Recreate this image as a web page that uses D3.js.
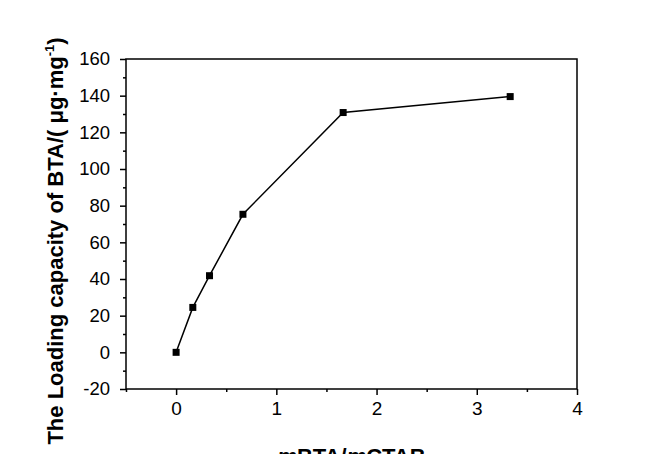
<!DOCTYPE html>
<html>
<head>
<meta charset="utf-8">
<script src="https://cdn.jsdelivr.net/npm/d3@7"></script>
<style>
  html, body { margin: 0; padding: 0; background: #ffffff; }
  svg { display: block; }
  text { font-family: Arial, "Liberation Sans", sans-serif; fill: #000; }
</style>
</head>
<body>
<script>
const xValues = [0, 0.1667, 0.3333, 0.6667, 1.6667, 3.3333];
const yValues = [0, 24.5, 41.8, 75.3, 130.8, 139.5];
const xTicks = [0, 1, 2, 3, 4];
const yTicks = [-20, 0, 20, 40, 60, 80, 100, 120, 140, 160];
const xMinorTicks = [-0.5, 0.5, 1.5, 2.5, 3.5];
const yMinorTicks = [-10, 10, 30, 50, 70, 90, 110, 130, 150];
const xTitleA = "m", xTitleB = "BTA/", xTitleC = "m", xTitleD = "CTAB";
const yTitleMain = "The Loading capacity of BTA/( \u03BCg\u00B7mg";
const yTitleSup = "-1";
const yTitleEnd = ")";

const W = 655, H = 454;
const pL = 126, pR = 577, pT = 59, pB = 389;

const svg = d3.select("body").append("svg").attr("width", W).attr("height", H);
svg.append("rect").attr("width", W).attr("height", H).attr("fill", "#fff");

const x = d3.scaleLinear().domain([-0.5, 4]).range([pL, pR]);
const y = d3.scaleLinear().domain([-20, 160]).range([pB, pT]);

// frame
svg.append("rect").attr("x", pL).attr("y", pT)
  .attr("width", pR - pL).attr("height", pB - pT)
  .attr("fill", "none").attr("stroke", "#000").attr("stroke-width", 1.5);

const fmt = d => String(d);

// bottom axis
const xAxis = d3.axisBottom(x).tickValues(xTicks).tickFormat(fmt)
  .tickSizeInner(6).tickSizeOuter(0).tickPadding(8);
const gx = svg.append("g").attr("transform", `translate(0,${pB})`).call(xAxis);
gx.select(".domain").remove();
gx.selectAll("line").attr("stroke-width", 1.5);
gx.selectAll("text").attr("font-size", 19).attr("dy", "0.71em").attr("y", 13);

const xMinor = d3.axisBottom(x).tickValues(xMinorTicks).tickFormat("").tickSizeInner(3).tickSizeOuter(0);
const gxm = svg.append("g").attr("transform", `translate(0,${pB})`).call(xMinor);
gxm.select(".domain").remove();
gxm.selectAll("line").attr("stroke-width", 1.5);

// left axis
const yAxis = d3.axisLeft(y).tickValues(yTicks).tickFormat(fmt)
  .tickSizeInner(6).tickSizeOuter(0).tickPadding(10);
const gy = svg.append("g").attr("transform", `translate(${pL},0)`).call(yAxis);
gy.select(".domain").remove();
gy.selectAll("line").attr("stroke-width", 1.5);
gy.selectAll("text").attr("font-size", 18.5).attr("x", -16);

const yMinor = d3.axisLeft(y).tickValues(yMinorTicks).tickFormat("").tickSizeInner(3).tickSizeOuter(0);
const gym = svg.append("g").attr("transform", `translate(${pL},0)`).call(yMinor);
gym.select(".domain").remove();
gym.selectAll("line").attr("stroke-width", 1.5);

// line
const data = xValues.map((v, i) => ({x: v, y: yValues[i]}));
svg.append("path").datum(data)
  .attr("fill", "none").attr("stroke", "#000").attr("stroke-width", 1.5)
  .attr("d", d3.line().x(d => x(d.x)).y(d => y(d.y)));

const ms = 7;
svg.selectAll("rect.pt").data(data).enter().append("rect")
  .attr("class", "pt")
  .attr("x", d => x(d.x) - ms / 2).attr("y", d => y(d.y) - ms / 2)
  .attr("width", ms).attr("height", ms).attr("fill", "#000");

// x title
const xt = svg.append("text").attr("x", (pL + pR) / 2).attr("y", 464)
  .attr("text-anchor", "middle").attr("font-size", 22).attr("font-weight", "bold");
xt.append("tspan").attr("font-style", "italic").text(xTitleA);
xt.append("tspan").text(xTitleB);
xt.append("tspan").attr("font-style", "italic").text(xTitleC);
xt.append("tspan").text(xTitleD);

// y title
const yt = svg.append("text").attr("transform", `translate(63,241) rotate(-90)`)
  .attr("text-anchor", "middle").attr("font-size", 22).attr("font-weight", "bold");
yt.append("tspan").text(yTitleMain);
yt.append("tspan").attr("font-size", 13).attr("dy", -9).text(yTitleSup);
yt.append("tspan").attr("dy", 9).text(yTitleEnd);
</script>
</body>
</html>
